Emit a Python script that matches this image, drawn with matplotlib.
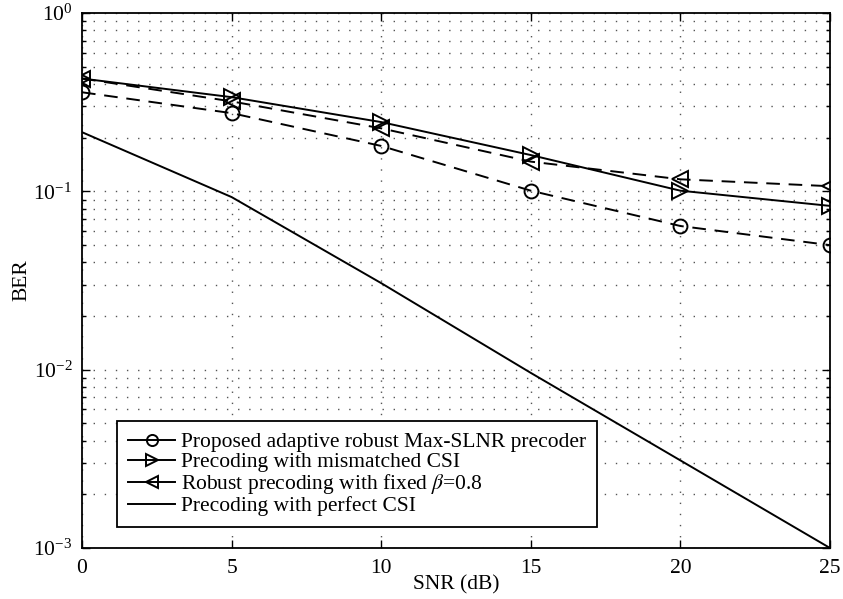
import matplotlib
matplotlib.use("Agg")
import matplotlib.pyplot as plt
from matplotlib.lines import Line2D
from matplotlib.ticker import LogLocator, NullFormatter

plt.rcParams['font.family'] = ['Liberation Serif', 'DejaVu Serif']
plt.rcParams['mathtext.fontset'] = 'stix'

snr = [0, 5, 10, 15, 20, 25]
ber_proposed = [0.36, 0.275, 0.18, 0.101, 0.064, 0.05]
ber_mismatched = [0.43, 0.338, 0.245, 0.16, 0.101, 0.083]
ber_fixed = [0.43, 0.32, 0.226, 0.147, 0.117, 0.107]
ber_perfect = [0.215, 0.093, 0.0306, 0.0096, 0.0031, 0.001]

labels = ['Proposed adaptive robust Max-SLNR precoder',
          'Precoding with mismatched CSI',
          r'Robust precoding with fixed $\beta$=0.8',
          'Precoding with perfect CSI']

fig = plt.figure(figsize=(8.43, 5.99), dpi=100)
ax = fig.add_axes([0.0973, 0.0851, 0.8873, 0.8929])

dash = (0, (7, 4.5))
styles = [(ber_proposed, dash, 'o', 10),
          (ber_mismatched, '-', '>', 11),
          (ber_fixed, dash, '<', 11),
          (ber_perfect, '-', None, 0)]

handles = []
for (vals, ls, mk, ms), lab in zip(styles, labels):
    ax.semilogy(snr, vals, color='k', ls=ls, lw=1.4, marker=mk,
                ms=ms, mfc='none', mew=1.4)
    # legend handles drawn solid, as in the original figure
    handles.append(Line2D([], [], color='k', ls='-', lw=1.4, marker=mk,
                          ms=ms * 0.8, mfc='none', mew=1.4, label=lab))

ax.set_xlim(0, 25)
ax.set_ylim(1e-3, 1)
ax.set_xticks(snr)
ax.yaxis.set_major_locator(LogLocator(base=10, numticks=10))
ax.yaxis.set_minor_locator(LogLocator(base=10, subs=range(2, 10), numticks=10))
ax.yaxis.set_minor_formatter(NullFormatter())

ax.grid(True, which='major', ls=(0, (1, 7)), color='#555555', lw=1.0)
ax.grid(True, which='minor', axis='y', ls=(0, (1, 7)), color='#555555', lw=1.0)

ax.tick_params(which='both', direction='in', top=True, right=True,
               labelsize=15.5, width=1.0)
ax.tick_params(which='major', length=6)
ax.tick_params(which='minor', length=3)
ax.tick_params(axis='x', pad=8)
ax.tick_params(axis='y', pad=7)
for s in ax.spines.values():
    s.set_linewidth(1.3)

ax.set_xlabel('SNR (dB)', fontsize=15.5, labelpad=-2)
ax.set_ylabel('BER', fontsize=15.5, labelpad=1)

leg = ax.legend(handles=handles, loc='lower left',
                bbox_to_anchor=(0.047, 0.039), borderaxespad=0,
                fontsize=15.5, handlelength=2.2, handletextpad=0.25,
                labelspacing=0.0, borderpad=0.5,
                fancybox=False, framealpha=1, edgecolor='k')
leg.get_frame().set_linewidth(1.3)

fig.savefig('out.png', dpi=100)
